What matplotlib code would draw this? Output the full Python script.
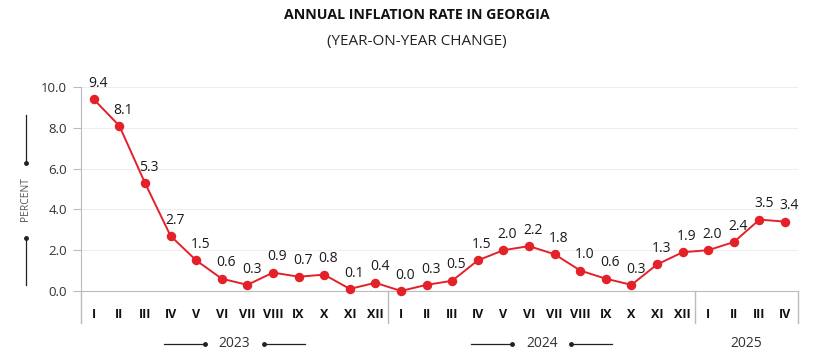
import matplotlib.pyplot as plt
import matplotlib.transforms as mtransforms

plt.rcParams['font.family'] = ['Open Sans', 'DejaVu Sans']

months = ["I", "II", "III", "IV", "V", "VI", "VII", "VIII", "IX", "X", "XI", "XII",
          "I", "II", "III", "IV", "V", "VI", "VII", "VIII", "IX", "X", "XI", "XII",
          "I", "II", "III", "IV"]
inflation = [9.4, 8.1, 5.3, 2.7, 1.5, 0.6, 0.3, 0.9, 0.7, 0.8, 0.1, 0.4,
             0.0, 0.3, 0.5, 1.5, 2.0, 2.2, 1.8, 1.0, 0.6, 0.3, 1.3, 1.9,
             2.0, 2.4, 3.5, 3.4]
years = ["2023", "2024", "2025"]
year_counts = [12, 12, 4]

red = "#e42129"
x = list(range(len(inflation)))

fig = plt.figure(figsize=(8.39, 3.57), dpi=100)
ax = fig.add_axes([0.0965, 0.185, 0.8545, 0.571])

ax.plot(x, inflation, color=red, lw=1.4, marker="o", ms=5.8, zorder=3, clip_on=False)
for xi, v in zip(x, inflation):
    ax.annotate(f"{v:.1f}", (xi, v), xytext=(3, 6), textcoords="offset points",
                ha="center", va="bottom", fontsize=10, color="#1a1a1a")

ax.set_xlim(-0.5, len(inflation) - 0.5)
ax.set_ylim(0, 10)
ax.set_yticks([0, 2, 4, 6, 8, 10])
ax.set_yticklabels([f"{t:.1f}" for t in [0, 2, 4, 6, 8, 10]], fontsize=9.5, color="#333333")
ax.tick_params(axis="y", length=6, color="#bbbbbb", pad=4)
ax.grid(axis="y", color="#eeeeee", lw=0.8)
ax.set_axisbelow(True)

ax.set_xticks(x)
ax.set_xticklabels(months, fontsize=9, fontweight="bold", color="#111111")
ax.tick_params(axis="x", length=0, pad=12)

for s in ["top", "right"]:
    ax.spines[s].set_visible(False)
ax.spines["left"].set_color("#bbbbbb")
ax.spines["bottom"].set_color("#bbbbbb")
ax.spines["left"].set_bounds(0, 10)

trans = mtransforms.blended_transform_factory(ax.transData, ax.transAxes)
# group separators
start = 0
bounds = [-0.5]
for c in year_counts:
    start += c
    bounds.append(start - 0.5)
for b in bounds:
    ax.plot([b, b], [0, -0.157], transform=trans, color="#bbbbbb", lw=1, clip_on=False)

# year labels
start = 0
for yr, c in zip(years, year_counts):
    mid = start + (c - 1) / 2
    ax.text(mid, -0.26, yr, transform=trans, ha="center", va="center",
            fontsize=10, color="#333333")
    if c > 6:
        for sgn in (-1, 1):
            ax.plot([mid + sgn * 1.15, mid + sgn * 2.75], [-0.26, -0.26], transform=trans,
                    color="#222222", lw=0.9, clip_on=False)
            ax.plot([mid + sgn * 1.15], [-0.26], transform=trans, marker="o", ms=2.5,
                    color="#222222", clip_on=False)
    start += c

# y label with decorative lines
fig.text(25.7 / 839, 1 - 199 / 357, "PERCENT", rotation=90, ha="center", va="center",
         fontsize=7.5, color="#555555")
fig.add_artist(plt.Line2D([25.7 / 839] * 2, [1 - 115 / 357, 1 - 163 / 357], color="#222222", lw=0.9))
fig.add_artist(plt.Line2D([25.7 / 839] * 2, [1 - 238 / 357, 1 - 285 / 357], color="#222222", lw=0.9))
fig.add_artist(plt.Line2D([25.7 / 839], [1 - 163 / 357], marker="o", ms=2.5, color="#222222"))
fig.add_artist(plt.Line2D([25.7 / 839], [1 - 238 / 357], marker="o", ms=2.5, color="#222222"))

fig.text(0.497, 1 - 15 / 357, "ANNUAL INFLATION RATE IN GEORGIA", ha="center", va="center",
         fontsize=10.2, fontweight="bold", color="#111111")
fig.text(0.497, 1 - 42 / 357, "(YEAR-ON-YEAR CHANGE)", ha="center", va="center",
         fontsize=11, color="#222222")

fig.savefig("out.png", dpi=100, facecolor="white")
